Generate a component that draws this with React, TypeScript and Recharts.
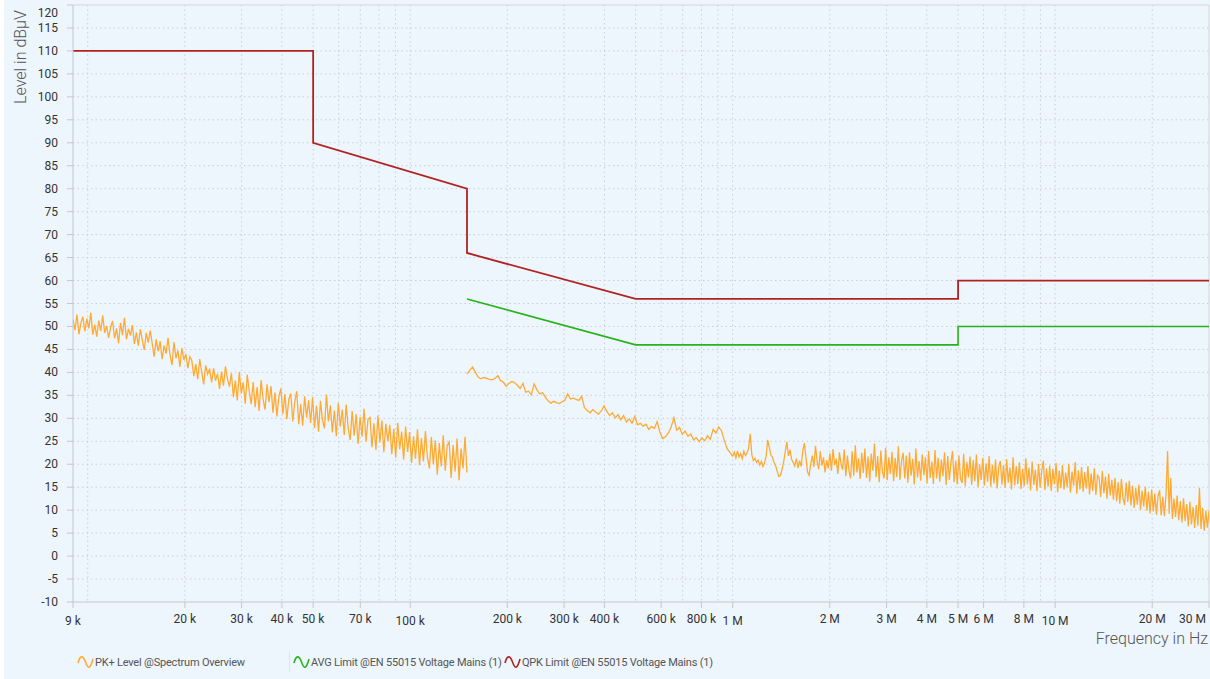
import {
  CartesianGrid,
  Legend,
  Line,
  LineChart,
  ReferenceLine,
  XAxis,
  YAxis,
} from "recharts";

// axis ticks and grid positions
const LEVEL_TICKS = [-10, -5, 0, 5, 10, 15, 20, 25, 30, 35, 40, 45, 50, 55, 60, 65, 70, 75, 80, 85, 90, 95, 100, 105, 110, 115, 120];
const LEVEL_GRID = [-5, 0, 5, 10, 15, 20, 25, 30, 35, 40, 45, 50, 55, 60, 65, 70, 75, 80, 85, 90, 95, 100, 105, 110, 115];
const FREQ_TICKS = [9e3, 20e3, 30e3, 40e3, 50e3, 70e3, 100e3, 200e3, 300e3, 400e3, 600e3, 800e3, 1e6, 2e6, 3e6, 4e6, 5e6, 6e6, 8e6, 10e6, 20e6, 30e6];
const FREQ_GRID = [
  10e3, 20e3, 30e3, 40e3, 50e3, 60e3, 70e3, 80e3, 90e3,
  100e3, 200e3, 300e3, 400e3, 500e3, 600e3, 700e3, 800e3, 900e3,
  1e6, 2e6, 3e6, 4e6, 5e6, 6e6, 7e6, 8e6, 9e6, 10e6, 20e6,
];
const DECADES = [9e3, 100e3, 1e6, 10e6];

// limit lines
const QPK_FREQ = [9e3, 50e3, 50e3, 150e3, 150e3, 500e3, 5e6, 5e6, 30e6];
const QPK_LEVEL = [110, 110, 90, 80, 66, 56, 56, 60, 60];
const AVG_FREQ = [150e3, 500e3, 5e6, 5e6, 30e6];
const AVG_LEVEL = [56, 46, 46, 50, 50];

// PK+ sweep, band 9 kHz - 150 kHz (log spaced sweep points)
const SWEEP_LOW = [9e3, 150e3];
const PK_LOW = [
  51.5, 49.2, 52.6, 48.3, 50.8, 52.1, 48.9, 51.7, 49.6, 53.0,
  48.2, 50.4, 47.8, 51.3, 49.0, 52.4, 48.6, 50.1, 47.5, 49.8,
  51.2, 47.4, 49.6, 46.3, 50.8, 48.1, 51.9, 47.2, 49.5, 48.0,
  50.3, 46.2, 48.7, 45.8, 49.4, 47.0, 44.9, 48.6, 46.5, 49.1,
  46.3, 43.4, 47.2, 44.6, 46.8, 42.9, 45.9, 44.1, 47.5, 43.8,
  41.6, 46.6, 43.1, 44.8, 41.2, 45.3, 42.7, 44.0, 40.9, 43.4,
  42.6, 39.2, 41.8, 38.5, 42.9, 40.1, 37.4, 41.5, 39.6, 40.8,
  37.8, 40.9, 38.2, 39.7, 36.4, 40.2, 37.1, 41.3, 38.6, 36.9,
  39.8, 34.6, 38.2, 33.9, 40.1, 35.4, 37.8, 33.2, 39.5, 35.9,
  33.1, 37.9, 32.4, 36.8, 31.6, 38.3, 34.2, 31.9, 37.4, 33.5,
  37.0, 31.2, 35.6, 30.4, 34.8, 36.5, 30.9, 35.3, 29.8, 34.1,
  35.4, 29.3, 33.6, 35.9, 28.7, 33.1, 28.4, 34.8, 30.2, 33.9,
  29.0, 34.6, 27.9, 32.7, 27.1, 33.8, 29.6, 27.8, 35.2, 29.3,
  32.8, 26.9, 31.7, 26.1, 33.4, 28.2, 31.9, 26.4, 33.0, 27.7,
  25.3, 31.6, 26.2, 30.9, 24.4, 30.3, 26.0, 32.1, 24.9, 29.8,
  30.2, 23.7, 28.9, 23.1, 30.6, 24.8, 29.5, 22.6, 28.8, 25.0,
  28.6, 22.2, 27.7, 21.4, 29.0, 23.3, 27.1, 21.0, 28.2, 22.7,
  27.0, 20.3, 26.1, 21.2, 27.6, 19.8, 25.7, 20.6, 27.2, 21.5,
  19.1, 25.9, 20.0, 25.2, 17.7, 24.6, 19.5, 26.3, 18.6, 24.1,
  24.9, 17.0, 24.2, 18.4, 25.6, 16.5, 23.4, 19.1, 26.0, 18.2,
];

// PK+ sweep, 150 kHz - 1 MHz
const SWEEP_MID = [150e3, 1e6];
const PK_MID = [
  39.6, 40.5, 41.2, 40.0, 39.0, 38.6, 38.9, 38.7, 38.5, 38.4,
  38.7, 39.3, 38.2, 37.9, 37.0, 37.6, 38.0, 37.8, 37.2, 36.5,
  37.6, 35.7, 35.9, 35.1, 37.5, 36.2, 35.3, 35.6, 34.6, 33.8,
  33.3, 33.7, 33.4, 33.2, 33.6, 34.0, 35.3, 34.2, 34.4, 34.1,
  33.9, 34.8, 32.3, 31.7, 31.2, 31.9, 31.4, 30.9, 31.6, 32.7,
  31.5, 30.6, 31.2, 30.1, 30.8, 29.7, 30.6, 29.2, 29.9, 28.9,
  30.4, 28.6, 28.9, 28.3, 28.7, 27.6, 28.2, 27.8, 29.3, 26.9,
  25.6, 26.0, 26.8, 28.1, 30.1, 27.4, 28.0, 26.5, 27.2, 26.1,
  26.6, 25.3, 25.8, 24.9, 25.7, 25.1, 26.2, 25.4, 27.6, 26.8,
  28.1, 27.3, 25.2, 23.4, 22.6, 21.8,
];

// PK+ sweep, 1 MHz - 30 MHz
const SWEEP_HIGH = [1e6, 30e6];
const PK_HIGH = [
  21.8, 22.6, 21.4, 22.9, 21.6, 22.3, 21.2, 22.8, 21.9, 22.4,
  23.5, 26.6, 22.1, 20.8, 21.3, 20.4, 20.9, 19.8, 20.6, 19.5,
  20.2, 21.8, 25.3, 23.6, 22.0, 21.5, 20.3, 19.6, 18.4, 17.3,
  17.6, 18.9, 20.5, 22.7, 24.9, 21.8, 23.2, 21.0, 20.4, 19.6,
  21.3, 19.2, 20.8, 19.5, 22.9, 24.6, 21.4, 18.3, 17.6, 20.1,
  21.9, 19.4, 24.0, 20.6, 18.9, 22.8, 19.7, 21.5, 18.2, 20.9,
  19.1, 22.4, 18.6, 23.3, 19.8, 21.2, 17.9, 22.6, 20.1, 18.8,
  23.2, 17.4, 21.9, 18.6, 16.9, 22.8, 17.5, 24.1, 18.2, 21.3,
  16.8, 22.5, 18.1, 23.4, 17.0, 21.7, 16.2, 22.3, 18.6, 24.5,
  17.2, 21.8, 16.1, 23.0, 18.3, 16.9, 23.6, 16.5, 21.5, 17.9,
  22.7, 16.3, 21.4, 17.2, 23.9, 16.6, 20.8, 22.5, 16.9, 21.9,
  16.0, 22.6, 17.5, 21.2, 15.6, 23.4, 17.1, 20.7, 16.4, 22.1,
  17.6, 21.5, 15.8, 22.9, 17.0, 20.6, 15.7, 23.1, 16.9, 21.4,
  16.2, 21.0, 17.4, 22.6, 15.5, 21.8, 16.6, 20.3, 22.9, 16.1,
  20.8, 15.6, 21.9, 16.8, 15.9, 22.3, 15.2, 20.5, 17.1, 21.7,
  15.5, 20.9, 16.3, 22.1, 15.0, 20.0, 16.6, 21.4, 15.3, 20.2,
  16.2, 21.8, 15.1, 19.9, 15.8, 21.0, 14.7, 19.5, 20.7, 15.6,
  19.8, 14.9, 21.1, 16.0, 19.3, 14.5, 21.5, 15.4, 19.6, 15.7,
  20.4, 14.6, 19.0, 15.2, 21.3, 15.6, 19.2, 14.3, 20.6, 15.5,
  18.8, 14.1, 20.1, 14.9, 18.5, 20.8, 14.4, 19.1, 15.1, 19.7,
  14.2, 19.0, 15.6, 20.3, 13.9, 18.6, 14.8, 19.8, 14.5, 18.2,
  15.0, 20.1, 13.8, 18.4, 15.3, 20.5, 13.6, 18.7, 14.5, 19.4,
  14.0, 18.3, 14.7, 19.6, 13.4, 18.0, 14.2, 19.1, 13.3, 17.6,
  17.1, 12.9, 18.5, 13.7, 17.3, 12.5, 17.9, 13.2, 16.6, 12.3,
  17.0, 11.9, 16.1, 11.4, 16.8, 12.6, 11.1, 16.0, 11.8, 16.4,
  11.0, 15.3, 10.5, 14.8, 11.2, 15.6, 10.1, 14.2, 10.8, 15.1,
  9.9, 14.0, 9.3, 14.5, 9.7, 13.6, 9.0, 13.1, 14.3, 8.9,
  12.9, 8.7, 13.4, 22.9, 9.2, 17.0, 8.1, 12.5, 8.5, 13.2,
  7.8, 12.0, 7.3, 12.6, 7.6, 11.3, 6.5, 11.8, 6.9, 10.7,
  6.1, 11.1, 6.6, 14.8, 5.9, 10.5, 5.5, 9.9, 6.2, 9.8,
];

const ORANGE = "#ffaa33";
const GREEN = "#27b31b";
const RED = "#b22222";
const FONT = "Roboto, 'Noto Sans', sans-serif";

// receiver sweep points are log spaced between start and stop
function sweep([start, stop]: number[], levels: number[]) {
  const n = levels.length;
  return levels.map((v, i) => ({ f: start * Math.pow(stop / start, i / (n - 1)), v }));
}

function pairs(freqs: number[], levels: number[]) {
  return freqs.map((f, i) => ({ f, v: levels[i] }));
}

const pkLowData = sweep(SWEEP_LOW, PK_LOW);
const pkHighData = [...sweep(SWEEP_MID, PK_MID), ...sweep(SWEEP_HIGH, PK_HIGH)];
const qpkData = pairs(QPK_FREQ, QPK_LEVEL);
const avgData = pairs(AVG_FREQ, AVG_LEVEL);

function fmtFreq(f: number) {
  return f >= 1e6 ? `${f / 1e6} M` : `${f / 1e3} k`;
}

function FreqTick({ x, y, payload }: any) {
  const f = payload.value;
  const last = f === 30e6;
  const dy = DECADES.includes(f) ? 15 : 13;
  return (
    <text
      x={last ? x - 3 : x}
      y={y + dy}
      textAnchor={last ? "end" : "middle"}
      fontSize={12}
      fontFamily={FONT}
      fill="#333"
    >
      {fmtFreq(f)}
    </text>
  );
}

function LevelTick({ x, y, payload }: any) {
  const top = payload.value === 120;
  return (
    <text
      x={x}
      y={top ? y + 8 : y}
      dy={4}
      textAnchor="end"
      fontSize={12}
      fontFamily={FONT}
      fill="#333"
    >
      {payload.value}
    </text>
  );
}

function Wave({ color }: { color: string }) {
  return (
    <svg width={17} height={16} style={{ marginRight: 1 }}>
      <path
        d="M1,9 C3,1 6,1 8.5,8 S13,16 16,5"
        fill="none"
        stroke={color}
        strokeWidth={1.6}
      />
    </svg>
  );
}

const LEGEND_ITEMS = [
  { name: "PK+ Level @Spectrum Overview", color: ORANGE, width: 216 },
  { name: "AVG Limit @EN 55015 Voltage Mains (1)", color: GREEN, width: 211 },
  { name: "QPK Limit @EN 55015 Voltage Mains (1)", color: RED, width: 240 },
];

function ChartLegend() {
  return (
    <div
      style={{
        display: "flex",
        alignItems: "center",
        height: 34,
        paddingLeft: 73,
        fontFamily: FONT,
        fontSize: 11,
        color: "#555",
        letterSpacing: -0.2,
      }}
    >
      {LEGEND_ITEMS.map((item, i) => (
        <div
          key={item.name}
          style={{
            display: "flex",
            alignItems: "center",
            width: item.width,
            whiteSpace: "nowrap",
          }}
        >
          {i === 1 && (
            <span
              style={{ width: 1, height: 20, background: "#dfe5ec", marginLeft: -4, marginRight: 3 }}
            />
          )}
          <Wave color={item.color} />
          {item.name}
        </div>
      ))}
    </div>
  );
}

export default function App() {
  return (
    <div
      style={{
        position: "absolute",
        left: 4,
        top: 0,
        width: 1206,
        height: 679,
        background: "#eef6fd",
      }}
    >
      <LineChart width={1206} height={679} margin={{ top: 5, right: 1, bottom: 0, left: 0 }}>
        <CartesianGrid
          stroke="#c9ced6"
          strokeDasharray="1.5 3"
          horizontalValues={LEVEL_GRID}
          verticalValues={FREQ_GRID}
        />
        <XAxis
          dataKey="f"
          type="number"
          scale="log"
          domain={[9e3, 30e6]}
          allowDataOverflow
          ticks={FREQ_TICKS}
          interval={0}
          height={43}
          stroke="#c3c7cc"
          tickSize={6}
          tick={<FreqTick />}
          label={{
            content: ({ viewBox }: any) => (
              <text
                x={viewBox.x + viewBox.width - 1}
                y={viewBox.y + 42}
                textAnchor="end"
                fontSize={16}
                fontWeight={300}
                fontFamily={FONT}
                fill="#555"
              >
                Frequency in Hz
              </text>
            ),
          }}
        />
        <YAxis
          type="number"
          domain={[-10, 120]}
          ticks={LEVEL_TICKS}
          interval={0}
          width={69}
          stroke="#c3c7cc"
          tickSize={6}
          tickMargin={9}
          tick={<LevelTick />}
          label={{
            content: ({ viewBox }: any) => (
              <text
                x={viewBox.x + 16}
                y={viewBox.y + 52}
                transform={`rotate(-90, ${viewBox.x + 16}, ${viewBox.y + 52})`}
                textAnchor="middle"
                dominantBaseline="central"
                fontSize={16}
                fontWeight={300}
                fontFamily={FONT}
                fill="#555"
              >
                Level in dBµV
              </text>
            ),
          }}
        />
        <ReferenceLine y={120} stroke="#d3d7dc" />
        <ReferenceLine x={30e6} stroke="#d3d7dc" />
        <Legend verticalAlign="bottom" height={34} content={<ChartLegend />} wrapperStyle={{ left: 0, width: 1206 }} />
        <Line
          data={pkLowData}
          dataKey="v"
          type="linear"
          stroke={ORANGE}
          strokeWidth={1.3}
          dot={false}
          isAnimationActive={false}
        />
        <Line
          data={pkHighData}
          dataKey="v"
          type="linear"
          stroke={ORANGE}
          strokeWidth={1.3}
          dot={false}
          isAnimationActive={false}
        />
        <Line
          data={avgData}
          dataKey="v"
          type="linear"
          stroke={GREEN}
          strokeWidth={1.6}
          dot={false}
          isAnimationActive={false}
        />
        <Line
          data={qpkData}
          dataKey="v"
          type="linear"
          stroke={RED}
          strokeWidth={1.8}
          dot={false}
          isAnimationActive={false}
        />
      </LineChart>
    </div>
  );
}
